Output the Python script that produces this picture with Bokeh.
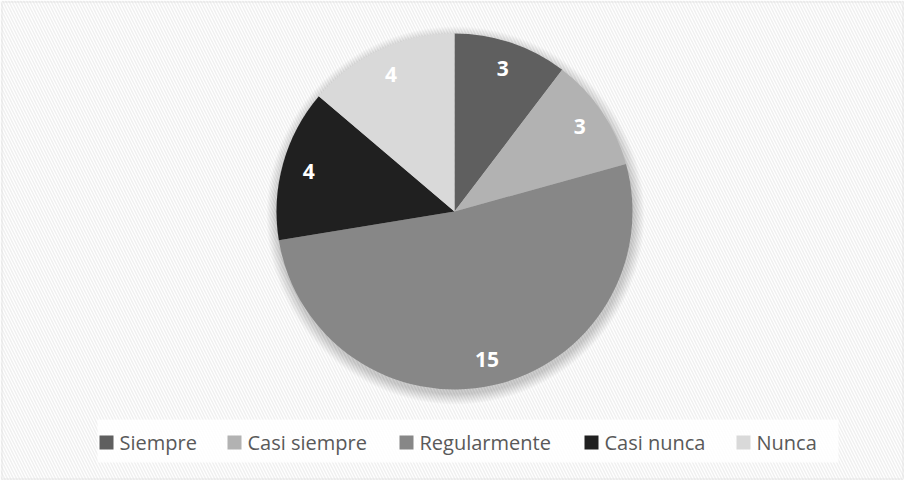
import numpy as np
from bokeh.plotting import figure
from bokeh.models import Range1d, BoxAnnotation, ColumnDataSource
from bokeh.core.properties import value
from bokeh.embed import file_html
from bokeh.resources import INLINE

# ---- data ----
categories = ["Siempre", "Casi siempre", "Regularmente", "Casi nunca", "Nunca"]
counts = [3, 3, 15, 4, 4]
colors = ["#5f5f5f", "#b2b2b2", "#878787", "#202020", "#d9d9d9"]

# ---- layout ----
W, H = 904, 480
cx, cy, R = 454, H - 211, 178
legend_x = [99, 227, 399, 584, 736]
legend_y = H - 442
FONT = "Open Sans"

total = sum(counts)
frac = np.array(counts, dtype=float) / total
cum = np.concatenate([[0.0], np.cumsum(frac)])
start = np.pi / 2 - cum[:-1] * 2 * np.pi
end = np.pi / 2 - cum[1:] * 2 * np.pi
mid = (start + end) / 2

src = ColumnDataSource(dict(
    cat=categories, val=counts, color=colors,
    start=start, end=end,
    lx=cx + 0.85 * R * np.cos(mid), ly=cy + 0.85 * R * np.sin(mid),
    lab=[str(v) for v in counts],
    kx=[x + 7 for x in legend_x], tx=[x + 20 for x in legend_x],
    ky=[legend_y] * len(categories),
))

p = figure(width=W, height=H, x_range=Range1d(0, W), y_range=Range1d(0, H),
           output_backend="svg", toolbar_location=None, min_border=0)
p.axis.visible = False
p.grid.visible = False
p.outline_line_color = None
p.background_fill_color = "white"
p.border_fill_color = "white"

bg = BoxAnnotation(fill_color="white", fill_alpha=1.0, hatch_pattern="\\",
                   hatch_color="#f0f0f0", hatch_scale=6, hatch_weight=1.5,
                   line_color=None, level="underlay")
p.add_layout(bg)
frame_line = BoxAnnotation(left=1.5, right=W - 1.5, bottom=1.5, top=H - 1.5,
                           fill_color=None, line_color="#d9d9d9", line_width=2,
                           level="underlay")
p.add_layout(frame_line)
leg_box = BoxAnnotation(left=97, right=838, top=H - 419, bottom=H - 462,
                        fill_color="white", fill_alpha=0.85, line_color=None,
                        level="underlay")
p.add_layout(leg_box)

# soft shadow
for i in range(12):
    p.circle(x=[cx + 1], y=[cy - 4], radius=R + 1 + i * 0.9,
             fill_color="black", fill_alpha=0.014, line_color=None)

p.wedge(x=cx, y=cy, radius=R, start_angle="start", end_angle="end",
        direction="clock", fill_color="color", line_color=None, source=src)

p.text(x="lx", y="ly", text="lab", source=src, text_align="center",
       text_baseline="middle", text_color="white", text_font=value(FONT),
       text_font_size="21px", text_font_style="bold")

p.rect(x="kx", y="ky", width=14, height=14, fill_color="color",
       line_color=None, source=src)
p.text(x="tx", y="ky", text="cat", source=src, text_align="left",
       text_baseline="middle", text_color="#595959", text_font=value(FONT),
       text_font_size="20px")

html = file_html(p, INLINE)
html = html.replace("<head>", "<head><style>html,body{margin:0;padding:0;overflow:hidden;}</style>", 1)
open("out.html", "w").write(html)
